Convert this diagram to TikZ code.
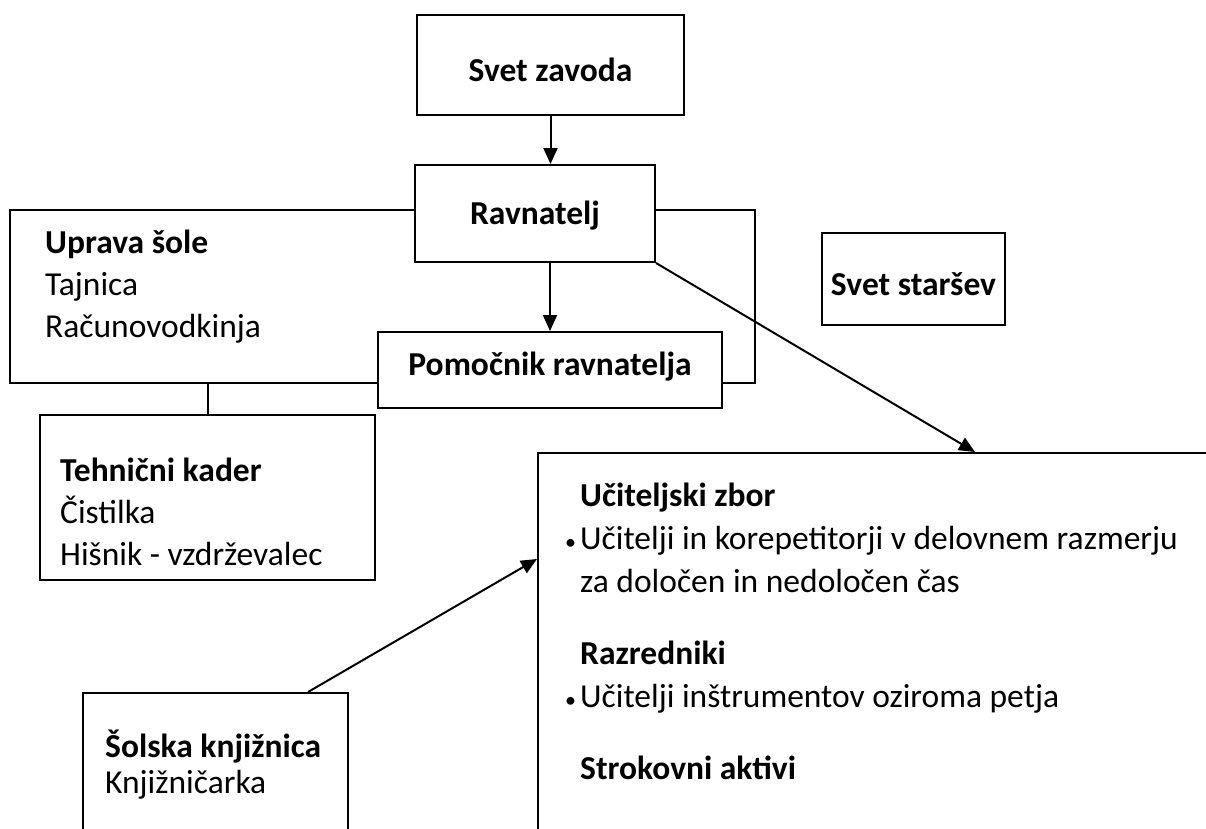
\documentclass[tikz,border=0pt]{standalone}
\usepackage{fontspec}
\setmainfont{Carlito}
\usetikzlibrary{arrows.meta}

\begin{document}
\begin{tikzpicture}[x=1pt,y=-1pt]
		\tikzstyle{every node}+=[inner sep=0pt, font=\fontsize{33.5}{42}\selectfont]
		\tikzstyle{box}=[draw=black, fill=white, rectangle, line width=2pt]
		\tikzstyle{arr}=[black, line width=2pt, -{Triangle[length=16pt,width=14pt]}]
		\useasboundingbox (0,0) rectangle (1206,828);
		\clip (0,0) rectangle (1206,828);
		% uprava sole, behind ravnatelj and pomocnik
		\node [box, minimum width=745, minimum height=173] (uprava) at (382.5,296.5) {};
		\node [anchor=west, align=left] (upravatxt) at (45,287) {\textbf{Uprava šole}\\Tajnica\\Računovodkinja};
		\node [box, minimum width=267, minimum height=100] (zavod) at (550.5,65) {\raisebox{-16.5pt}[0pt][0pt]{\textbf{Svet zavoda}}};
		\node [box, minimum width=240, minimum height=97] (ravnatelj) at (535,213.5) {\raisebox{-11pt}[0pt][0pt]{\textbf{Ravnatelj}}};
		\node [box, minimum width=344, minimum height=76] (pomocnik) at (550,370) {\raisebox{-5pt}[0pt][0pt]{\textbf{Pomočnik ravnatelja}}};
		\node [box, minimum width=183, minimum height=92] (starsi) at (913.5,279) {\raisebox{-16pt}[0pt][0pt]{\textbf{Svet staršev}}};
		% tehnicni kader
		\node [box, minimum width=335, minimum height=165] (tehnicni) at (207.5,497.5) {};
		\node [anchor=west, align=left] (tehnicnitxt) at (60,512) {\textbf{Tehnični kader}\\Čistilka\\Hišnik - vzdrževalec};
		% knjiznica
		\node [box, minimum width=265, minimum height=187] (knjiznica) at (215.5,786.5) {};
		\node [anchor=west, align=left, font=\fontsize{33.5}{36}\selectfont] (knjiznicatxt) at (105,765) {\textbf{Šolska knjižnica}\\Knjižničarka};
		% uciteljski zbor
		\node [anchor=north west, align=left, font=\fontsize{33.5}{43}\selectfont] (zbortxt) at (565,483) {%
			\hspace*{15pt}\textbf{Učiteljski zbor}\\
			\makebox[15pt][l]{\fontsize{22}{22}\selectfont•}Učitelji in korepetitorji v delovnem razmerju\\
			\hspace*{15pt}za določen in nedoločen čas\\[29pt]
			\hspace*{15pt}\textbf{Razredniki}\\
			\makebox[15pt][l]{\fontsize{22}{22}\selectfont•}Učitelji inštrumentov oziroma petja\\[29pt]
			\hspace*{15pt}\textbf{Strokovni aktivi}};
		\node [box, fill=none, minimum width=874, minimum height=447] (zbor) at (975,676.5) {};
		% povezave
		\draw [arr] (zavod.south) -- (zavod.south |- ravnatelj.north);
		\draw [arr] (ravnatelj.south -| pomocnik.north) -- (pomocnik.north);
		\draw [black, line width=2pt] (tehnicni.north) -- (tehnicni.north |- uprava.south);
		\draw [arr] (ravnatelj.south east) -- (zbor.north);
		\draw [arr] ([xshift=-41pt]knjiznica.north east) -- ([yshift=-107pt]zbor.north west);
	\end{tikzpicture}
\end{document}
